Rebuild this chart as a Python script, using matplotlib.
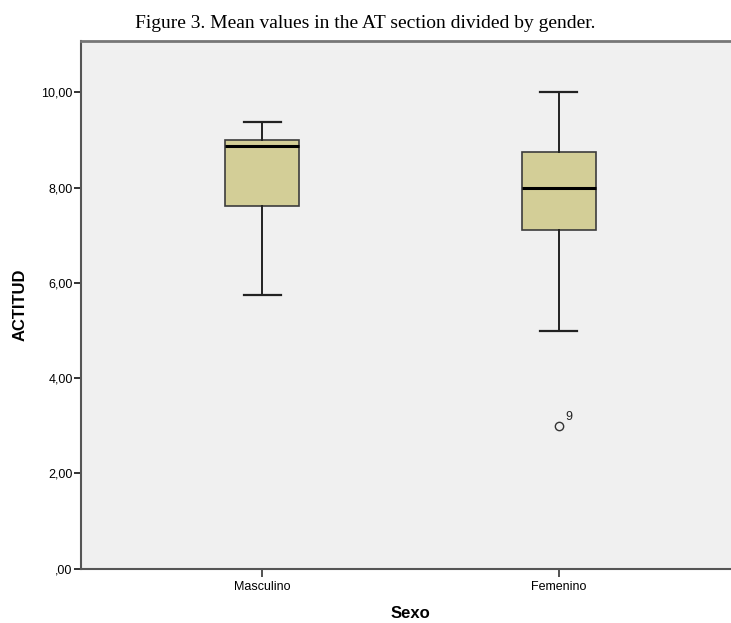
import matplotlib
matplotlib.use("Agg")
import matplotlib.pyplot as plt

# box stats (SPSS style boxplot)
groups = ["Masculino", "Femenino"]
whislo = [5.75, 5.0]
q1 = [7.62, 7.12]
medians = [8.88, 8.0]
q3 = [9.0, 8.75]
whishi = [9.38, 10.0]
outliers = [[], [3.0]]
outlier_ids = [[], ["9"]]

yticks = [0, 2, 4, 6, 8, 10]
ytick_labels = [",00", "2,00", "4,00", "6,00", "8,00", "10,00"]

stats = []
for i in range(len(groups)):
    stats.append({"label": groups[i], "whislo": whislo[i], "q1": q1[i], "med": medians[i],
                  "q3": q3[i], "whishi": whishi[i], "fliers": outliers[i]})

fig = plt.figure(figsize=(7.31, 6.23), dpi=100)
# axes runs past the right edge, the original picture is cropped there
ax = fig.add_axes([0.1108, 0.0872, 0.9015, 0.847])
ax.set_facecolor("#f0f0f0")

pos = list(range(1, len(groups) + 1))
ax.bxp(stats, positions=pos, widths=0.25, capwidths=0.125, patch_artist=True,
       boxprops=dict(facecolor="#d3ce97", edgecolor="#3c3c3c", linewidth=1.2),
       medianprops=dict(color="black", linewidth=2.2),
       whiskerprops=dict(color="#222222", linewidth=1.4),
       capprops=dict(color="#222222", linewidth=1.6),
       flierprops=dict(marker="o", markerfacecolor="none", markeredgecolor="#333333",
                       markersize=6, markeredgewidth=1.0))

for i in range(len(groups)):
    for v, lab in zip(outliers[i], outlier_ids[i]):
        ax.annotate(lab, (pos[i], v), xytext=(5, 4), textcoords="offset points",
                    fontsize=9, family="Liberation Sans", color="#222222")

ax.set_xlim(0.39, 2.61)
ax.set_ylim(0, 11.08)
ax.set_yticks(yticks)
ax.set_yticklabels(ytick_labels, family="Liberation Sans", fontsize=9)
ax.set_xticks(pos)
ax.set_xticklabels(groups, family="Liberation Sans", fontsize=9)
ax.tick_params(axis="y", length=5, width=1.4, color="#333333", pad=1)
ax.tick_params(axis="x", length=6, width=1.2, color="#333333", pad=3)

for s in ["left", "bottom"]:
    ax.spines[s].set_color("#555555")
    ax.spines[s].set_linewidth(1.5)
ax.spines["top"].set_color("#777777")
ax.spines["top"].set_linewidth(2)
ax.spines["right"].set_visible(False)

ax.set_ylabel("ACTITUD", family="Liberation Sans", fontweight="bold", fontsize=12, labelpad=10)
ax.set_xlabel("Sexo", family="Liberation Sans", fontweight="bold", fontsize=12, labelpad=9)

fig.text(0.5, 0.962, "Figure 3. Mean values in the AT section divided by gender.",
         family="Liberation Serif", fontsize=14, ha="center", va="center")

fig.savefig("out.png", dpi=100)
